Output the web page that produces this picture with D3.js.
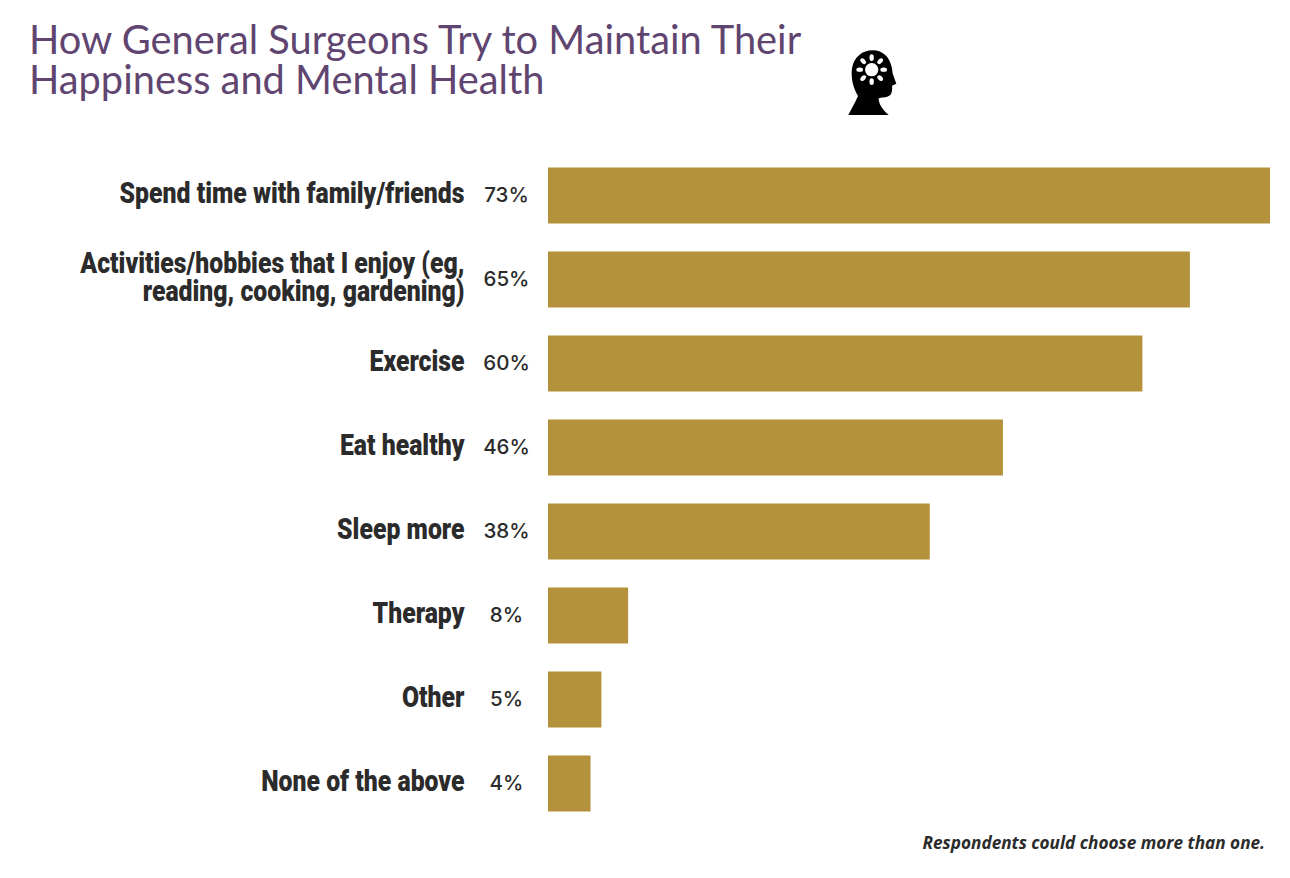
<!DOCTYPE html>
<html><head><meta charset="utf-8">
<script src="https://cdnjs.cloudflare.com/ajax/libs/d3/7.8.5/d3.min.js"></script>
<style>html,body{margin:0;padding:0;background:#fff}svg{display:block}</style></head>
<body><svg id="c" width="1290" height="878"></svg>
<script>
const categories=[["Spend time with family/friends"],["Activities/hobbies that I enjoy (eg,","reading, cooking, gardening)"],["Exercise"],["Eat healthy"],["Sleep more"],["Therapy"],["Other"],["None of the above"]];
const values=[73,64.9,60.1,46,38.6,8.1,5.4,4.3];
const valueLabels=["73%","65%","60%","46%","38%","8%","5%","4%"];
const titleLines=["How General Surgeons Try to Maintain Their","Happiness and Mental Health"];
const note="Respondents could choose more than one.";
const svg=d3.select("#c");
const ink="#2b2b2b";
const title=svg.append("text").attr("font-family","Lato").attr("font-weight",400).attr("font-size",39.8).attr("fill","#5f4570");
title.selectAll("tspan").data(titleLines).join("tspan").attr("x",29).attr("y",(d,i)=>54+i*40).text(d=>d);
const x=d3.scaleLinear().domain([0,73]).range([548,1270]);
const y=d3.scaleBand().domain(d3.range(values.length)).range([153.5,825.5]).paddingInner(1/3).paddingOuter(1/6);
svg.selectAll(".b").data(values).join("rect").attr("class","b").attr("x",x(0)).attr("y",(d,i)=>y(i)).attr("width",d=>x(d)-x(0)).attr("height",y.bandwidth()).attr("fill","#b3923b");
const cy=i=>y(i)+y.bandwidth()/2;
svg.selectAll(".v").data(valueLabels).join("text").attr("class","v").attr("x",506.5).attr("y",(d,i)=>cy(i)+6).attr("text-anchor","middle")
 .attr("font-family","Inter").attr("font-weight",500).attr("font-size",20.5).attr("fill",ink).text(d=>d);
const sx=.855;
categories.forEach((c,i)=>{
 const t=svg.append("text").attr("text-anchor","end").attr("font-family","Roboto").attr("font-weight",900).attr("font-size",29).attr("fill",ink)
  .attr("transform",`translate(464.5,0) scale(${sx},1)`);
 c.forEach((l,j)=>t.append("tspan").attr("x",0).attr("y",cy(i)+8+(j-(c.length-1)/2)*28).text(l));
});
svg.append("text").attr("x",1265).attr("y",849).attr("text-anchor","end").attr("font-family","Open Sans").attr("font-style","italic").attr("font-weight",700).attr("font-size",17.2).attr("fill",ink).text(note);
// head icon
const icon=svg.append("g").attr("transform","translate(830,35) scale(0.3333)");
icon.append("path").attr("fill","#000").attr("d","M55,240 C62,225 75,205 84,183 C70,160 62,130 66,100 C72,65 98,46 128,46 C160,46 180,68 186,100 C187,110 188,118 191,124 L199,146 L186,152 C187,162 187,172 181,180 C172,188 158,186 146,190 C146,205 155,222 176,240 Z");
icon.append("circle").attr("cx",125).attr("cy",104).attr("r",20).attr("fill","#fff");
icon.selectAll("ellipse").data(d3.range(8)).join("ellipse").attr("cx",0).attr("cy",0).attr("rx",10).attr("ry",6.5).attr("fill","#fff")
 .attr("transform",d=>`translate(125,104) rotate(${d*45}) translate(36,0)`);
</script></body></html>
